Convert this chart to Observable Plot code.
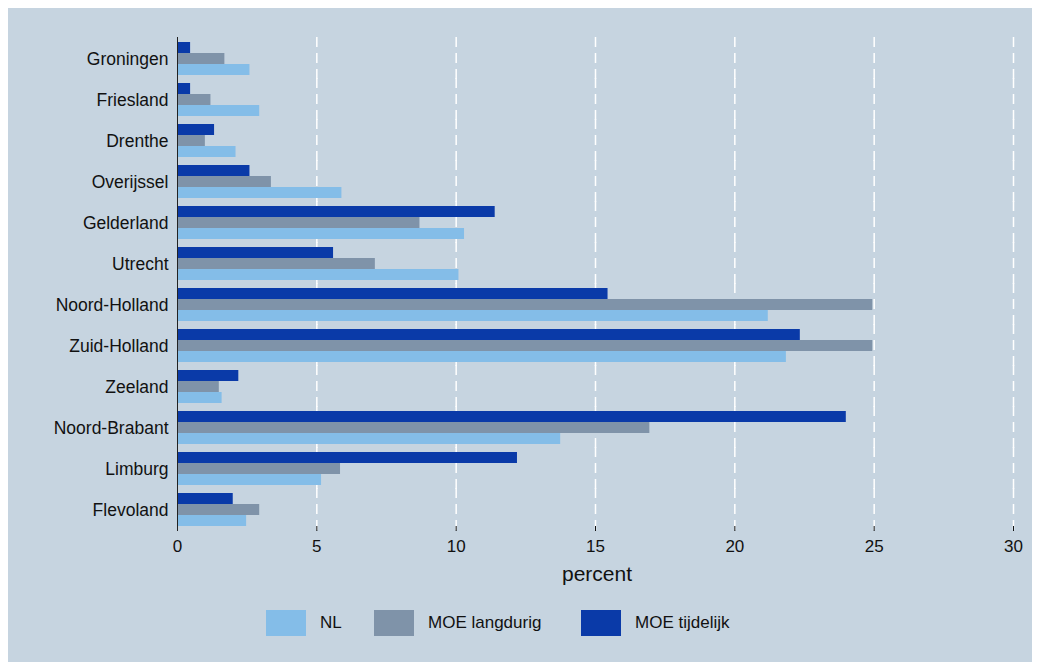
<!DOCTYPE html>
<html><head><meta charset="utf-8">
<script src="https://cdn.jsdelivr.net/npm/d3@7"></script>
<script src="https://cdn.jsdelivr.net/npm/@observablehq/plot@0.6"></script>
<style>
body{margin:0;background:#fff;font-family:"Liberation Sans",Arial,sans-serif}
#box{position:absolute;left:8px;top:8px;width:1024px;height:654px;background:#c6d4e0}
#legend{position:absolute;left:266px;top:610px;display:flex;font-size:17px;color:#111}
.it{display:flex;align-items:center}
.sw{width:40px;height:26px;margin-right:14px}
#xlabel{position:absolute;left:0;width:1194px;text-align:center;top:562px;font-size:21px;color:#111}
</style></head><body>
<div id="box"></div><div id="chart" style="position:absolute;left:0;top:0"></div>
<div id="xlabel">percent</div>
<div id="legend"></div>
<script>
// regions top to bottom
const regions = ['Groningen','Friesland','Drenthe','Overijssel','Gelderland','Utrecht','Noord-Holland','Zuid-Holland','Zeeland','Noord-Brabant','Limburg','Flevoland'];
const series = ['MOE tijdelijk','MOE langdurig','NL'];
const colors = ['#0a3aa8','#7f93a9','#84bde8'];
const tijdelijk = [0.47,0.47,1.33,2.6,11.4,5.6,15.45,22.35,2.2,24.0,12.2,2.0];
const langdurig = [1.7,1.2,1.0,3.37,8.7,7.1,24.95,24.95,1.5,16.95,5.85,2.95];
const nl = [2.6,2.95,2.1,5.9,10.3,10.1,21.2,21.85,1.6,13.75,5.17,2.48];
const xticks = [0,5,10,15,20,25,30];

const rows = [];
regions.forEach((r, i) => {
  rows.push({region: r, series: series[0], value: tijdelijk[i]});
  rows.push({region: r, series: series[1], value: langdurig[i]});
  rows.push({region: r, series: series[2], value: nl[i]});
});

const chart = Plot.plot({
  width: 1040, height: 590,
  marginLeft: 177, marginRight: 27, marginTop: 37, marginBottom: 60,
  style: {background: 'transparent', fontFamily: '"Liberation Sans",Arial,sans-serif', fontSize: '17px', color: '#111'},
  x: {domain: [0, 30], label: null},
  fy: {domain: regions, padding: 0.2, label: null},
  y: {domain: series, padding: 0, axis: null},
  color: {domain: series, range: colors},
  marks: [
    Plot.ruleX(xticks.slice(1), {stroke: '#fff', strokeWidth: 1.5, insetTop: -5, insetBottom: -5}),
    Plot.barX(rows, {fy: 'region', y: 'series', x: 'value', fill: 'series'}),
    Plot.axisFy({anchor: 'left', tickSize: 0, tickPadding: 9, fontSize: 17.5, label: null}),
    Plot.axisX({ticks: xticks, tickSize: 5, tickPadding: 8, fontSize: 17, label: null}),
    Plot.ruleX([0], {stroke: '#222', insetTop: -5, insetBottom: -5})
  ]
});
document.getElementById('chart').append(chart);
// dashed white grid
chart.querySelectorAll('g[aria-label="rule"] line').forEach(l => {
  if (l.getAttribute('stroke') === '#fff' || l.parentNode.getAttribute('stroke') === '#fff') l.setAttribute('stroke-dasharray', '10,6');
});

const legendOrder = [2,1,0];
const legendWidths = [108, 207, 200];
document.getElementById('legend').innerHTML = legendOrder.map((i, k) =>
  `<div class="it" style="width:${legendWidths[k]}px"><div class="sw" style="background:${colors[i]}"></div>${series[i]}</div>`).join('');
</script>
</body></html>
